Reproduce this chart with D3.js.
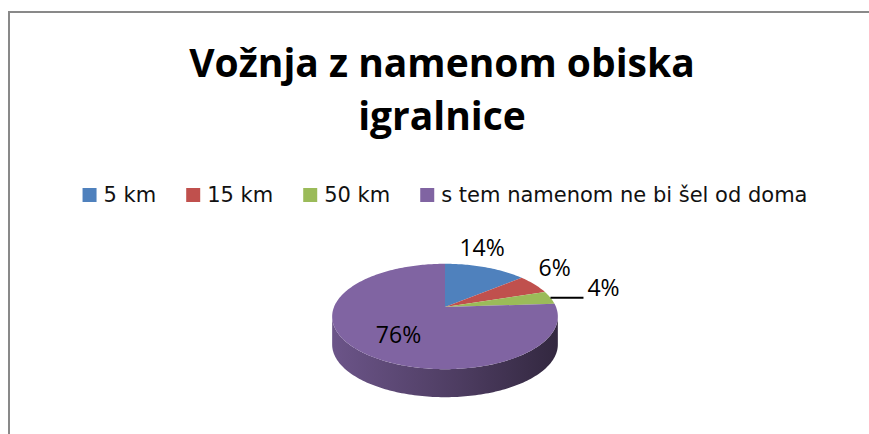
<!DOCTYPE html>
<html>
<head>
<meta charset="utf-8">
<script src="https://cdn.jsdelivr.net/npm/d3@7"></script>
<style>
	body { margin: 0; background: #fff; }
	svg { display: block; }
</style>
</head>
<body>
<script>
//chart data
var categories = ["5 km", "15 km", "50 km", "s tem namenom ne bi šel od doma"],
	values = [14, 6, 4, 76],
	colors = ["#4F81BD", "#C0504D", "#9BBB59", "#8064A2"],
	titleLines = ["Vožnja z namenom obiska", "igralnice"];

var width = 869,
	height = 434;

var svg = d3.select("body").append("svg")
	.attr("width", width)
	.attr("height", height);

//chart frame (right and bottom edges fall outside the window)
svg.append("rect")
	.attr("x", 9)
	.attr("y", 12)
	.attr("width", 880)
	.attr("height", 440)
	.attr("fill", "#fff")
	.attr("stroke", "#898989")
	.attr("stroke-width", 2);

//////////////
// title
//////////////
svg.append("g").selectAll("text")
	.data(titleLines).enter()
		.append("text")
		.attr("x", 442)
		.attr("y", function(d, i) { return 77 + i * 53; })
		.attr("text-anchor", "middle")
		.style("font-family", "'Open Sans', sans-serif")
		.style("font-weight", "bold")
		.style("font-size", "39px")
		.style("fill", "#000")
		.text(function(d) { return d; });

//////////////
// legend
//////////////
var legend = svg.append("g").attr("class", "legend");
var items = legend.selectAll("g")
	.data(categories).enter()
		.append("g");
items.append("rect")
	.attr("width", 14)
	.attr("height", 14)
	.attr("y", -14)
	.style("fill", function(d, i) { return colors[i]; });
items.append("text")
	.attr("x", 21)
	.style("font-family", "'DejaVu Sans', sans-serif")
	.style("font-size", "21px")
	.style("fill", "#111")
	.text(function(d) { return d; });

//lay the items out in a row and centre the row
var pos = 0, gap = 30;
items.each(function() {
	var w = 21 + this.querySelector("text").getComputedTextLength();
	d3.select(this).attr("data-x", pos);
	pos += w + gap;
});
var rowWidth = pos - gap,
	rowLeft = 445 - rowWidth / 2;
items.attr("transform", function() {
	return "translate(" + (rowLeft + (+d3.select(this).attr("data-x"))) + ",202)";
});

//////////////
// 3d pie
//////////////
var cx = 445, cy = 307,	//apex of the slices
	rx = 111, ry = 51,	//radii of the top face
	persp = -0.18,		//perspective strength
	depth = 28;

//project an angle (clockwise from 12 o'clock) and radius onto the tilted disc
function proj(a, r) {
	var u = r * Math.sin(a),
		v = -r * Math.cos(a),
		w = 1 + persp * v;
	return [cx + rx * u / w, cy + ry * v / w];
}
function arcPts(a0, a1, r) {
	var n = Math.max(2, Math.ceil((a1 - a0) / 0.02));
	return d3.range(n + 1).map(function(i) { return proj(a0 + (a1 - a0) * i / n, r); });
}

var pie = d3.pie().sort(null);
var slices = pie(values);
var line = d3.line();

//gradients for the side walls
var defs = svg.append("defs");
colors.forEach(function(c, i) {
	var g = defs.append("linearGradient")
		.attr("id", "side" + i)
		.attr("gradientUnits", "userSpaceOnUse")
		.attr("x1", cx - rx).attr("x2", cx + rx)
		.attr("y1", 0).attr("y2", 0);
	g.append("stop").attr("offset", 0).attr("stop-color", d3.color(c).darker(0.5));
	g.append("stop").attr("offset", 0.55).attr("stop-color", d3.color(c).darker(1.4));
	g.append("stop").attr("offset", 1).attr("stop-color", d3.color(c).darker(2.6));
});

//visible front part of the wall lies between the two silhouette points
var front0 = Math.acos(persp),
	front1 = 2 * Math.PI - front0;

var sides = svg.append("g").attr("class", "sides");
slices.forEach(function(s, i) {
	var a0 = Math.max(s.startAngle, front0),
		a1 = Math.min(s.endAngle, front1);
	if (a1 <= a0) return;
	var top = arcPts(a0, a1, 1),
		bottom = top.map(function(p) { return [p[0], p[1] + depth]; }).reverse();
	sides.append("path")
		.attr("d", line(top.concat(bottom)) + "Z")
		.style("fill", "url(#side" + i + ")");
});

//top face
svg.append("g").attr("class", "slices").selectAll("path")
	.data(slices).enter()
		.append("path")
		.attr("d", function(d) {
			return line([[cx, cy]].concat(arcPts(d.startAngle, d.endAngle, 1))) + "Z";
		})
		.style("fill", function(d, i) { return colors[i]; });

//data labels
var labels = svg.append("g").attr("class", "labels");
slices.forEach(function(s) {
	var mid = (s.startAngle + s.endAngle) / 2,
		txt = s.value + "%",
		p, anchor = "middle";
	if (s.value > 50) {
		p = proj(mid, 0.6);
		p[0] += 3;
		p[1] += 12;
	} else if (s.value < 5) {
		//small slice: leader line out to the right
		var e = proj(mid, 1);
		labels.append("line")
			.attr("x1", e[0]).attr("y1", e[1])
			.attr("x2", e[0] + 33).attr("y2", e[1])
			.style("stroke", "#000")
			.style("stroke-width", 2);
		p = [e[0] + 37, e[1] - 1.5];
		anchor = "start";
	} else {
		p = proj(mid, 1.25);
		p[1] -= 3;
		if (s.index === 0) p[0] -= 12;
	}
	labels.append("text")
		.attr("x", p[0])
		.attr("y", p[1])
		.attr("text-anchor", anchor)
		.style("font-family", "'Open Sans', sans-serif")
		.style("font-size", "23px")
		.style("fill", "#000")
		.text(txt);
});
</script>
</body>
</html>
